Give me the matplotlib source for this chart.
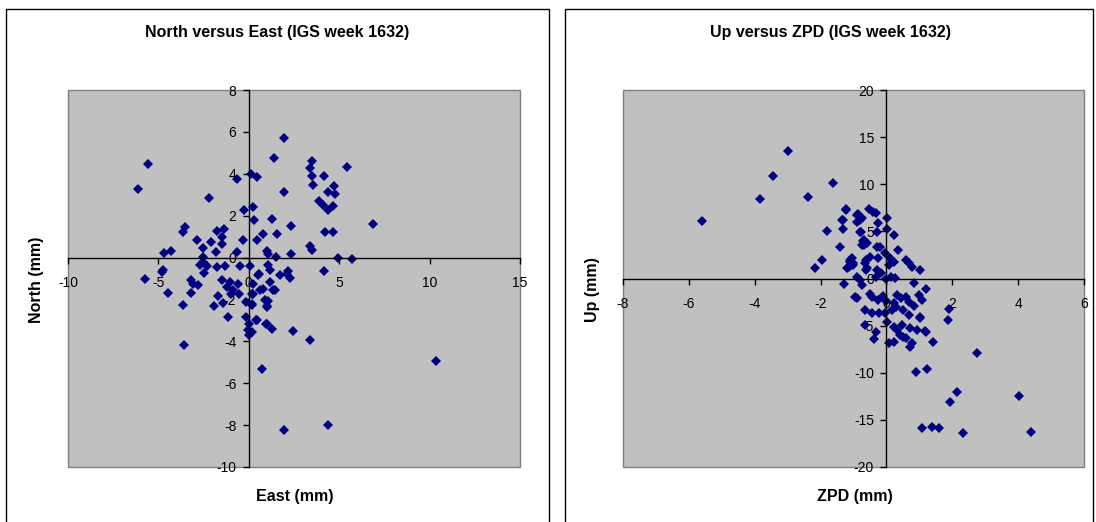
import matplotlib
matplotlib.use("Agg")
import matplotlib.pyplot as plt
from matplotlib.patches import Rectangle

plt.rcParams['font.family'] = ['Liberation Sans', 'DejaVu Sans']

# ---- Data: North versus East ----
east = [1.96, -5.59, -6.14, 1.39, 0.12, 0.43, -0.67, -2.2, 1.96, -0.27, 0.21, 0.31, 1.28, 2.33, 1.54, 0.8, 0.47,
        -0.34, -3.53, -3.62, -2.88, -1.78, -1.35, -1.5, -1.47, -2.1, -2.52, -1.83, -0.64, -4.69, -4.32, 1.02, 1.08,
        1.49, 2.33, -2.52, -2.55, -2.7, -2.3, -2.46, -0.49, 0.07, -1.74, -1.32, -4.73, -4.8, -5.74, 0.58, 1.08, 1.17,
        1.73, 2.19,
        -4.45, -3.66, -3.58, -3.2, -3.07, -2.8, -3.2, -1.9, -1.69, -1.42, -1.13, -1.5, -1.22, -1.03, -0.85, -0.57,
        -0.54, -1.0, -0.17, -0.15, 0.03, -0.03, 0.03, 0.43, 0.99, 1.3, 2.46, 0.71, 1.96, 0.2, 0.25, 0.62, 0.99, 1.08,
        1.45, 1.17, 0.53,
        3.48, 3.38, 3.48, 3.57, 4.16, 5.45, 4.71, 4.36, 4.77, 3.88, 4.12, 4.4, 4.67, 6.85, 4.21, 4.67, 3.38, 3.48,
        4.95, 5.72,
        4.16, 2.13, 2.28, 3.4, 10.35, 4.4,
        0.25, 0.8, 1.36, 0.16, 0.9, 0.99, 0.16, 0.4, 0.96, 0.16]
north = [5.73, 4.45, 3.26, 4.76, 3.97, 3.83, 3.73, 2.84, 3.11, 2.27, 2.41, 1.79, 1.85, 1.5, 1.13, 1.13, 0.83,
         0.83, 1.44, 1.2, 0.83, 1.28, 1.37, 0.99, 0.64, 0.72, 0.47, 0.26, 0.26, 0.23, 0.31, 0.31, 0.15,
         0.03, 0.15, 0.03, -0.2, -0.36, -0.4, -0.76, -0.38, -0.38, -0.44, -0.41, -0.6, -0.7, -1.03, -0.79, -0.36, -0.6,
         -0.84, -0.64,
         -1.69, -2.25, -4.16, -1.08, -1.24, -1.3, -1.69, -2.33, -1.85, -2.15, -2.84, -1.08, -1.4, -1.17, -1.57, -1.25,
         -1.73, -1.73, -2.12, -2.84, -3.15, -3.47, -3.7, -2.96, -3.15, -3.39, -3.52, -5.31, -8.21, -2.25, -1.72, -1.57,
         -2.3, -2.06, -1.56, -1.17, -0.85,
         4.61, 4.26, 3.91, 3.46, 3.89, 4.31, 3.42, 3.11, 3.02, 2.71, 2.51, 2.27, 2.47, 1.58, 1.2, 1.2, 0.56, 0.35,
         0.0, -0.08,
         -0.64, -0.79, -0.97, -3.95, -4.94, -7.99,
         -1.24, -1.48, -1.56, -1.72, -2.04, -2.36, -2.2, -3.0, -3.15, -3.55]

# ---- Data: Up versus ZPD ----
zpd = [-5.59, -3.83, -3.45, -2.99, -2.39, -1.63, -1.8, -1.32, -1.42, -1.96, -2.18, -1.22, -1.32, -0.87, -0.75,
       -0.9, -0.77, -0.72, -0.67, -1.1, -1.0, -1.15, -0.61, -0.61,
       -1.23, -1.34, -0.89, -0.79, -0.54, -0.31, -0.42, 0.02, -0.79, -0.3, -0.26, 0.02, 0.22, -0.69, -0.59, -0.74,
       -0.3, -0.2, 0.34, -1.04, -1.1, -1.2, -1.0, -0.49, -0.26, -0.64, -0.59, -0.03, 0.12, 0.22, 0.07, 0.58, 0.68,
       0.78, 1.03,
       -1.28, -0.89, -0.79, -0.74, -0.28, -0.18, -0.33, 0.0, 0.15, 0.25, 0.83, 1.19, -0.94, -0.89, -0.5, -0.45,
       -0.25, -0.1, 0.0, 0.33, 0.43, 0.58, 0.68, 0.98, 1.09, 0.83, 0.22, 0.28, -0.64, -0.43, -0.23, -0.03, 0.18,
       0.49, 0.68, 1.9, 1.86, 1.03, -0.64, 0.02, 0.22, 0.33, 0.48, 0.73, 0.93, 1.19, -0.33, -0.38, 0.07, 0.22, 0.4,
       0.5, 0.6, 0.78, 0.73, 1.42, 2.76,
       0.91, 1.22, 2.15, 1.92, 4.03, 1.07, 1.37, 1.61, 2.33, 4.38, 1.16, 1.03]
up = [6.14, 8.4, 10.9, 13.57, 8.7, 10.1, 5.08, 5.22, 3.38, 1.96, 1.15, 7.27, 6.2, 6.85, 6.4,
      6.0, 4.9, 4.0, 3.6, 1.96, 1.6, 1.25, 1.96, 0.9,
      7.35, 6.2, 6.74, 6.2, 7.35, 7.0, 7.1, 6.4, 4.97, 4.97, 5.85, 5.2, 4.6, 4.08, 3.73, 3.55,
      3.37, 3.3, 3.02, 2.14, 1.78, 1.08, 1.43, 2.31, 2.2, 1.61, 1.08, 2.67, 2.14, 1.78, 1.43, 1.96, 1.68,
      1.25, 0.9,
      -0.62, 0.19, -0.16, -0.69, 0.9, 0.55, 0.19, 0.0, 0.2, 0.05, -0.45, -1.15, -1.93, -2.1, -1.6, -2.0,
      -2.3, -1.9, -2.4, -1.75, -2.1, -1.93, -2.46, -1.75, -2.28, -2.92, -2.6, -3.0, -3.34, -3.7, -3.7, -3.7, -3.34,
      -3.34, -3.87, -3.24, -4.4, -4.23, -4.94, -4.58, -5.1, -5.47, -4.94, -5.29, -5.47, -5.72, -5.65, -6.46, -6.88,
      -6.71, -6.0, -6.2, -6.3, -6.88, -7.24, -6.71, -7.94,
      -9.89, -9.64, -12.0, -13.08, -12.47, -15.9, -15.8, -15.9, -16.4, -16.26, -5.57, -4.12]

left_xticks = [-10, -5, 0, 5, 10, 15]
left_yticks = [-10, -8, -6, -4, -2, 0, 2, 4, 6, 8]
right_xticks = [-8, -6, -4, -2, 0, 2, 4, 6]
right_yticks = [-20, -15, -10, -5, 0, 5, 10, 15, 20]

W, H = 1096, 522
fig = plt.figure(figsize=(W / 100, H / 100), dpi=100)
fig.patch.set_facecolor('white')


def fx(px):
    return px / W


def fy(py):
    return 1 - py / H


# chart borders
for (x0, x1) in [(6, 549), (565, 1093)]:
    fig.patches.append(Rectangle((fx(x0), fy(530)), fx(x1) - fx(x0), fy(9) - fy(530),
                                 transform=fig.transFigure, fill=False, edgecolor='black', linewidth=1.0))


def make_ax(rect, xs, ys, xlim, ylim, xticks, yticks, title, xlabel, ylabel, title_x, xlabel_x, ylabel_x,
            ylabel_y):
    ax = fig.add_axes(rect)
    ax.set_facecolor('#C0C0C0')
    ax.plot(xs, ys, linestyle='none', marker='D', markersize=5.0, color='#000080', markeredgewidth=0)
    ax.set_xlim(*xlim)
    ax.set_ylim(*ylim)
    ax.set_xticks(xticks)
    ax.set_yticks(yticks)
    ax.set_xticklabels([str(t) for t in xticks])
    ax.set_yticklabels([str(t) for t in yticks])
    for s in ['top', 'right']:
        ax.spines[s].set_visible(False)
    ax.spines['left'].set_position(('data', 0))
    ax.spines['bottom'].set_position(('data', 0))
    ax.spines['left'].set_linewidth(1.0)
    ax.spines['bottom'].set_linewidth(1.0)
    ax.tick_params(axis='x', direction='out', length=4, width=1, pad=9, labelsize=10)
    ax.tick_params(axis='y', direction='out', length=4, width=1, pad=5, labelsize=10)
    ax.add_patch(Rectangle((0, 0), 1, 1, transform=ax.transAxes, fill=False, edgecolor='#808080',
                           linewidth=1.0, clip_on=False, zorder=0.5))
    fig.text(fx(title_x), fy(33), title, ha='center', va='center', fontsize=11.5, fontweight='bold')
    fig.text(fx(xlabel_x), fy(497), xlabel, ha='center', va='center', fontsize=11.5, fontweight='bold')
    fig.text(fx(ylabel_x), fy(ylabel_y), ylabel, ha='center', va='center', fontsize=11.5, fontweight='bold',
             rotation=90)
    return ax


make_ax([fx(68), fy(467), fx(520) - fx(68), fy(90) - fy(467)], east, north, (-10, 15), (-10, 8),
        left_xticks, left_yticks, 'North versus East (IGS week 1632)', 'East (mm)', 'North (mm)',
        277, 295, 37, 280)
make_ax([fx(623), fy(467), fx(1084) - fx(623), fy(90) - fy(467)], zpd, up, (-8, 6), (-20, 20),
        right_xticks, right_yticks, 'Up versus ZPD (IGS week 1632)', 'ZPD (mm)', 'Up (mm)',
        830, 855, 593, 290)

fig.savefig('out.png', dpi=100)
